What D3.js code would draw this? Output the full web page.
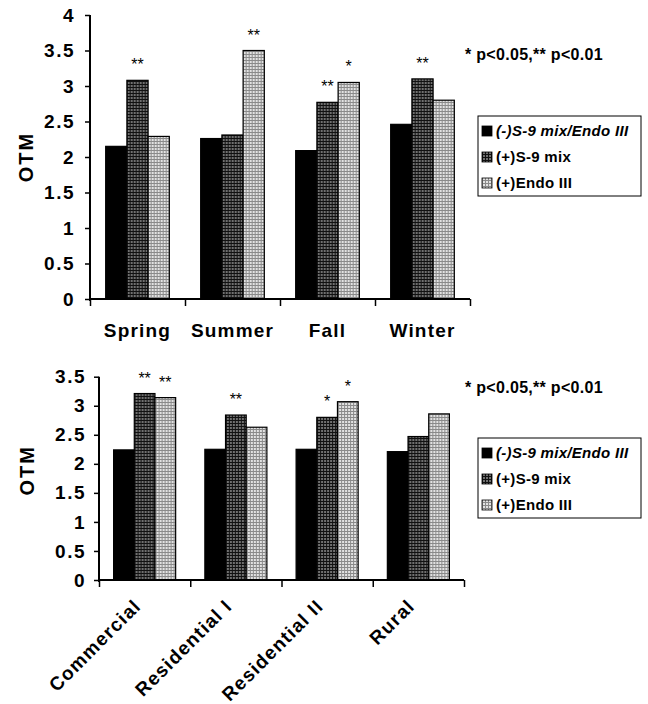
<!DOCTYPE html>
<html lang="en">
<head>
<meta charset="utf-8">
<script src="https://cdn.jsdelivr.net/npm/d3@7"></script>
<style>
  body { margin: 0; background: #fff; }
  text { font-family: "Liberation Sans", Arial, sans-serif; font-weight: bold; fill: #000; }
</style>
</head>
<body>
<div id="my_dataviz"></div>
<script>
// series + categories
var series = ["(-)S-9 mix/Endo III", "(+)S-9 mix", "(+)Endo III"];

var seasons = ["Spring", "Summer", "Fall", "Winter"];
var seasonNone = [2.15, 2.26, 2.09, 2.46];
var seasonS9 = [3.08, 2.31, 2.77, 3.10];
var seasonEndo = [2.29, 3.50, 3.05, 2.80];
var seasonStars = [["", "**", ""], ["", "", "**"], ["", "**", "*"], ["", "**", ""]];
var seasonTicks = [0, 0.5, 1, 1.5, 2, 2.5, 3, 3.5, 4];

var sites = ["Commercial", "Residential I", "Residential II", "Rural"];
var siteNone = [2.24, 2.25, 2.25, 2.21];
var siteS9 = [3.21, 2.84, 2.80, 2.47];
var siteEndo = [3.14, 2.63, 3.07, 2.86];
var siteStars = [["", "**", "**"], ["", "**", ""], ["", "*", "*"], ["", "", ""]];
var siteTicks = [0, 0.5, 1, 1.5, 2, 2.5, 3, 3.5];

var pNote = "* p<0.05,** p<0.01";

var svg = d3.select("#my_dataviz")
    .append("svg")
    .attr("width", 648)
    .attr("height", 704);

// hatch fills, roughly like the scanned grid textures
var defs = svg.append("defs");
function grid(id, bg, line) {
    var p = defs.append("pattern")
        .attr("id", id)
        .attr("patternUnits", "userSpaceOnUse")
        .attr("width", 3).attr("height", 3);
    p.append("rect").attr("width", 3).attr("height", 3).attr("fill", bg);
    p.append("path").attr("d", "M0,0.5H3M0.5,0V3")
        .attr("stroke", line).attr("stroke-width", 1);
}
grid("darkGrid", "#707070", "#111");
grid("lightGrid", "#e2e2e2", "#8a8a8a");
var fills = ["#000", "url(#darkGrid)", "url(#lightGrid)"];

function drawChart(cfg) {
    var g = svg.append("g");

    var y = d3.scaleLinear()
        .domain([0, cfg.ticks[cfg.ticks.length - 1]])
        .range([cfg.bottom, cfg.top]);

    var x = d3.scaleBand()
        .domain(cfg.cats)
        .range([cfg.left, cfg.right])
        .paddingInner(cfg.pad)
        .paddingOuter(cfg.pad / 2);

    var xs = d3.scaleBand()
        .domain(d3.range(series.length))
        .range([0, x.bandwidth()]);

    var rows = cfg.cats.map(function (c, i) {
        return { cat: c, vals: [cfg.none[i], cfg.s9[i], cfg.endo[i]], stars: cfg.stars[i] };
    });

    var grp = g.selectAll(".grp")
        .data(rows)
        .enter()
        .append("g")
        .attr("transform", function (d) { return "translate(" + x(d.cat) + ",0)"; });

    grp.selectAll("rect")
        .data(function (d) { return d.vals; })
        .enter()
        .append("rect")
        .attr("x", function (d, i) { return xs(i); })
        .attr("y", function (d) { return y(d); })
        .attr("width", xs.bandwidth())
        .attr("height", function (d) { return y(0) - y(d); })
        .attr("fill", function (d, i) { return fills[i]; })
        .attr("stroke", "#000")
        .attr("stroke-width", 1.2);

    grp.selectAll(".star")
        .data(function (d) { return d.vals.map(function (v, i) { return { v: v, s: d.stars[i] }; }); })
        .enter()
        .append("text")
        .attr("class", "star")
        .attr("x", function (d, i) { return xs(i) + xs.bandwidth() / 2; })
        .attr("y", function (d) { return y(d.v) - 10; })
        .attr("text-anchor", "middle")
        .style("font-size", "16px")
        .style("font-weight", "normal")
        .text(function (d) { return d.s; });

    // y axis
    var ya = g.append("g")
        .attr("transform", "translate(" + cfg.left + ",0)")
        .call(d3.axisLeft(y).tickValues(cfg.ticks).tickSize(5).tickPadding(cfg.tickPad).tickFormat(d3.format("")));
    ya.select(".domain").attr("stroke-width", 2).attr("d", "M0," + (cfg.bottom + 2) + "V" + cfg.top);
    ya.selectAll(".tick line").attr("stroke-width", 1.5);
    ya.selectAll(".tick text")
        .style("font-size", "19px")
        .style("letter-spacing", "1.5px")
        .style("font-family", "'Liberation Sans', Arial, sans-serif");

    // x axis with ticks between categories
    var xb = d3.scaleLinear().domain([0, cfg.cats.length]).range([cfg.left, cfg.right]);
    var xa = g.append("g")
        .attr("transform", "translate(0," + cfg.bottom + ")")
        .call(d3.axisBottom(xb).tickValues(d3.range(cfg.cats.length + 1)).tickSize(7).tickFormat(""));
    xa.select(".domain").attr("stroke-width", 2).attr("d", "M" + cfg.left + ",0H" + cfg.right);
    xa.selectAll(".tick line").attr("stroke-width", 1.5);

    // category labels
    var lab = g.selectAll(".cat")
        .data(cfg.cats)
        .enter()
        .append("text")
        .attr("class", "cat")
        .style("font-size", "19px")
        .style("letter-spacing", "1.2px")
        .text(function (d) { return d; });
    if (cfg.rotate) {
        lab.attr("text-anchor", "end")
            .attr("transform", function (d) {
                return "translate(" + (x(d) + x.bandwidth() / 2 - 12) + "," + (cfg.bottom + 18) + ") rotate(-45)";
            })
            .attr("dy", "0.7em");
    } else {
        lab.attr("text-anchor", "middle")
            .attr("x", function (d) { return x(d) + x.bandwidth() / 2; })
            .attr("y", cfg.bottom + 38);
    }

    // y title
    g.append("text")
        .attr("transform", "translate(" + cfg.titleX + "," + ((cfg.top + cfg.bottom) / 2 + cfg.titleDy) + ") rotate(-90)")
        .attr("text-anchor", "middle")
        .attr("dy", "0.35em")
        .style("font-size", "20px")
        .style("letter-spacing", "2px")
        .text("OTM");

    // significance note
    g.append("text")
        .attr("x", 465)
        .attr("y", cfg.noteY)
        .style("font-size", "16px")
        .style("letter-spacing", "0.3px")
        .text(pNote);

    // legend
    var leg = g.append("g").attr("transform", "translate(478," + cfg.legY + ")");
    leg.append("rect")
        .attr("width", 163).attr("height", 80)
        .attr("fill", "#fff").attr("stroke", "#000").attr("stroke-width", 1);
    var item = leg.selectAll(".item")
        .data(series)
        .enter()
        .append("g")
        .attr("transform", function (d, i) { return "translate(4," + (15 + i * 26) + ")"; });
    item.append("rect")
        .attr("x", 0).attr("y", -5)
        .attr("width", 10).attr("height", 10)
        .attr("fill", function (d, i) { return fills[i]; })
        .attr("stroke", "#000").attr("stroke-width", 0.8);
    item.append("text")
        .attr("x", 14)
        .attr("dy", "0.36em")
        .style("font-size", "15px")
        .style("letter-spacing", "0.3px")
        .style("font-style", function (d, i) { return i === 0 ? "italic" : "normal"; })
        .text(function (d) { return d; });
}

drawChart({
    cats: seasons, none: seasonNone, s9: seasonS9, endo: seasonEndo, stars: seasonStars,
    ticks: seasonTicks, top: 15, bottom: 299, left: 90, right: 470, pad: 0.33, tickPad: 10,
    rotate: false, titleX: 26, titleDy: 0, noteY: 60, legY: 116
});

drawChart({
    cats: sites, none: siteNone, s9: siteS9, endo: siteEndo, stars: siteStars,
    ticks: siteTicks, top: 376.7, bottom: 580, left: 99, right: 464, pad: 0.32, tickPad: 8,
    rotate: true, titleX: 27, titleDy: -8, noteY: 393, legY: 438
});
</script>
</body>
</html>
